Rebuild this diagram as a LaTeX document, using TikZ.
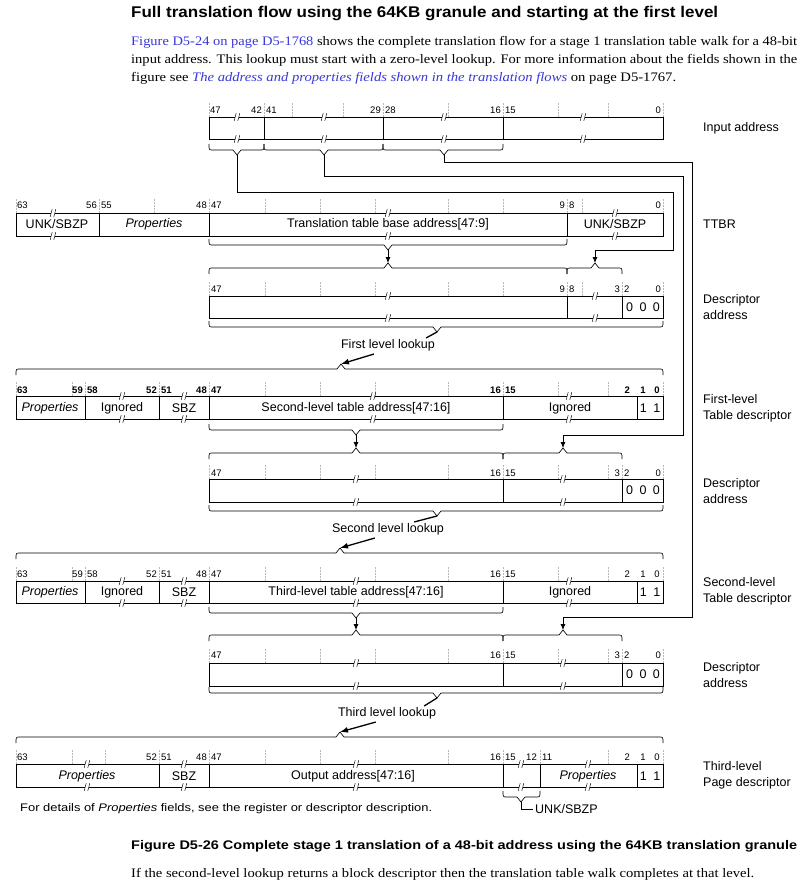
\documentclass[tikz,border=0pt]{standalone}
\usepackage{graphicx}
\usepackage{fontspec}
\setmainfont{Liberation Serif}
\newfontfamily\arial{Liberation Sans}
\usetikzlibrary{arrows.meta}
\definecolor{linkblue}{rgb}{0.22,0.22,0.85}
\newsavebox\fitbox
\newcommand\fitto[2]{\sbox\fitbox{#2}\pgfmathsetmacro\fitr{#1/\the\wd\fitbox}\scalebox{\fitr}[1]{\usebox\fitbox}}
\tikzset{
  boxline/.style={line width=1pt},
  tickline/.style={gray!55, line width=0.45pt, densely dotted},
  braceline/.style={line width=0.65pt},
  conn/.style={line width=0.75pt},
  arr/.style={conn,-{Latex[length=6pt,width=5pt]}},
  look/.style={line width=1.3pt},
  lookarr/.style={line width=1.3pt,-{Latex[length=8pt,width=6pt]}},
  field/.style={font=\arial\fontsize{12.5}{15}\selectfont, inner sep=0pt},
  bitlab/.style={font=\arial\fontsize{9.5}{11}\selectfont, inner sep=0pt},
  bitlabb/.style={font=\arial\bfseries\fontsize{9.5}{11}\selectfont, inner sep=0pt},
  side/.style={font=\arial\fontsize{12.5}{16}\selectfont, inner sep=0pt, anchor=west, align=left},
}
\newcommand\brk[2]{%
  \fill[white] (#1-2,#2-1) rectangle (#1+2,#2+1);
  \draw[line width=0.45pt] (#1-2.8,#2+3.8) .. controls (#1-0.4,#2+1.2) and (#1-3.2,#2-1.2) .. (#1-0.8,#2-3.8);
  \draw[line width=0.45pt] (#1+0.8,#2+3.8) .. controls (#1+3.2,#2+1.2) and (#1+0.4,#2-1.2) .. (#1+2.8,#2-3.8);}
\newcommand\bdn[5]{%
  \draw[braceline] (#1,#4-6) .. controls (#1,#4) .. (#1+4,#4) -- (#3-4,#4) -- (#3,#4+5) coordinate (#5) -- (#3+4,#4) -- (#2-4,#4) .. controls (#2,#4) .. (#2,#4-6);}
\newcommand\bup[5]{%
  \draw[braceline] (#1,#4+6) .. controls (#1,#4) .. (#1+4,#4) -- (#3-4,#4) -- (#3,#4-5) coordinate (#5) -- (#3+4,#4) -- (#2-4,#4) .. controls (#2,#4) .. (#2,#4+6);}
\begin{document}
\begin{tikzpicture}[x=1pt,y=-1pt]
\useasboundingbox[fill=white] (0,0) rectangle (806,891);

% ---------- heading and text ----------
\node[anchor=west,inner sep=0pt] (title) at (131,14) {\fitto{587}{\arial\bfseries\fontsize{15.5}{18}\selectfont Full translation flow using the 64KB granule and starting at the first level}};
\node[anchor=west,inner sep=0pt] (p1) at (131,42) {\fitto{666}{\fontsize{13}{15}\selectfont \textcolor{linkblue}{Figure D5-24 on page D5-1768} shows the complete translation flow for a stage 1 translation table walk for a 48-bit}};
\node[anchor=west,inner sep=0pt] (p2) at (131,60) {\fitto{666}{\fontsize{13}{15}\selectfont input address. This lookup must start with a zero-level lookup. For more information about the fields shown in the}};
\node[anchor=west,inner sep=0pt] (p3) at (131,78) {\fitto{545}{\fontsize{13}{15}\selectfont figure see \textcolor{linkblue}{\itshape The address and properties fields shown in the translation flows} on page D5-1767.}};

% ---------- Input address ----------
\foreach \x in {209,264,292,343,383,448,503,558,608,663} \draw[tickline] (\x,103)--(\x,117);
\draw[boxline] (209,117) rectangle (663,139);
\foreach \x in {264,383,503} \draw[boxline] (\x,117)--(\x,139);
\foreach \x/\t/\a [count=\i] in {210/47/west,262/42/east,266/41/west,381/29/east,385/28/west,501/16/east,505/15/west,661/0/east}
  \node[bitlab,anchor=\a] (ial\i) at (\x,110) {\t};
\foreach \x in {237,324,444,583} {\brk{\x}{117}\brk{\x}{139}}
\bdn{209}{264}{237}{150}{ia1}
\bdn{264}{383}{324}{150}{ia2}
\bdn{383}{503}{444}{150}{ia3}
\node[side] (sIA) at (703,128) {Input address};

% ---------- TTBR ----------
\foreach \x in {16,99,154,209,265,320,375,448,503,567,582,663} \draw[tickline] (\x,199)--(\x,213);
\draw[boxline] (16,213) rectangle (663,236);
\foreach \x in {99,209,567} \draw[boxline] (\x,213)--(\x,236);
\foreach \x/\t/\a [count=\i] in {17/63/west,97/56/east,101/55/west,207/48/east,211/47/west,565/9/east,569/8/west,661/0/east}
  \node[bitlab,anchor=\a] (ttl\i) at (\x,205) {\t};
\foreach \x in {53,388,615} {\brk{\x}{213}\brk{\x}{236}}
\node[field] (tt1) at (57,224) {UNK/SBZP};
\node[field] (tt2) at (154,224) {\itshape Properties};
\node[field] (tt3) at (388,224) {Translation table base address[47:9]};
\node[field] (tt4) at (615,224) {UNK/SBZP};
\bdn{209}{567}{388}{245}{tt}
\node[side] (sTT) at (703,224) {TTBR};

% ---------- Descriptor address 1 ----------
\bup{209}{567}{388}{268}{d1a}
\bup{567}{622}{595}{268}{d1b}
\foreach \x in {209,265,320,375,448,503,567,582,622,663} \draw[tickline] (\x,282)--(\x,296);
\draw[boxline] (209,296) rectangle (663,318);
\foreach \x in {567,622} \draw[boxline] (\x,296)--(\x,318);
\foreach \x/\t/\a [count=\i] in {211/47/west,565/9/east,569/8/west,620/3/east,624/2/west,661/0/east}
  \node[bitlab,anchor=\a] (d1l\i) at (\x,289) {\t};
\foreach \x in {388,595} {\brk{\x}{296}\brk{\x}{318}}
\node[field] (d1z) at (643,307) {0\hspace{6.5pt}0\hspace{6.5pt}0};
\bdn{209}{663}{437}{327}{d1lo}
\node[side] (sD1) at (703,307) {Descriptor\\address};

% First level lookup
\node[field] (lk1) at (388,345) {First level lookup};
\draw[look] (d1lo) -- ([xshift=-9pt,yshift=1pt]lk1.north east);
\bup{16}{663}{341}{369}{f1up}
\draw[lookarr] ([xshift=33pt,yshift=-3pt]lk1.south west) -- (f1up);

% ---------- First-level table descriptor ----------
\foreach \x in {16,72,85,159,209,265,320,375,448,503,558,608,663} \draw[tickline] (\x,382)--(\x,396);
\draw[boxline] (16,396) rectangle (663,419);
\foreach \x in {85,159,209,503,637} \draw[boxline] (\x,396)--(\x,419);
\foreach \x/\t/\a [count=\i] in {17/63/west,83/59/east,87/58/west,157/52/east,161/51/west,207/48/east,211/47/west,501/16/east,505/15/west,630/2/east,643/1/center,657/0/center}
  \node[bitlabb,anchor=\a] (f1l\i) at (\x,390) {\t};
\foreach \x in {122,184,373,569} {\brk{\x}{396}\brk{\x}{419}}
\node[field] (f1a) at (50,408) {\itshape Properties};
\node[field] (f1b) at (122,408) {Ignored};
\node[field] (f1c) at (184,408) {SBZ};
\node[field] (f1d) at (356,408) {Second-level table address[47:16]};
\node[field] (f1e) at (570,408) {Ignored};
\node[field] (f1f) at (650,408) {1\hspace{6.5pt}1};
\bdn{209}{503}{356}{430}{f1lo}
\node[side] (sF1) at (703,408) {First-level\\Table descriptor};

% ---------- Descriptor address 2 ----------
\bup{209}{503}{356}{453}{d2a}
\bup{503}{622}{563}{453}{d2b}
\foreach \x in {209,265,320,375,448,503,558,608,622,663} \draw[tickline] (\x,465)--(\x,479);
\draw[boxline] (209,479) rectangle (663,502);
\foreach \x in {503,622} \draw[boxline] (\x,479)--(\x,502);
\foreach \x/\t/\a [count=\i] in {211/47/west,501/16/east,505/15/west,620/3/east,624/2/west,661/0/east}
  \node[bitlab,anchor=\a] (d2l\i) at (\x,473) {\t};
\foreach \x in {356,563} {\brk{\x}{479}\brk{\x}{502}}
\node[field] (d2z) at (643,490) {0\hspace{6.5pt}0\hspace{6.5pt}0};
\bdn{209}{663}{437}{511}{d2lo}
\node[side] (sD2) at (703,491) {Descriptor\\address};

% Second level lookup
\node[field] (lk2) at (388,529) {Second level lookup};
\draw[look] (d2lo) -- ([xshift=-30pt,yshift=1pt]lk2.north east);
\bup{16}{663}{340}{553}{s1up}
\draw[lookarr] ([xshift=43pt,yshift=-3pt]lk2.south west) -- (s1up);

% ---------- Second-level table descriptor ----------
\foreach \x in {16,72,85,159,209,265,320,375,448,503,558,608,663} \draw[tickline] (\x,567)--(\x,581);
\draw[boxline] (16,581) rectangle (663,603);
\foreach \x in {85,159,209,503,637} \draw[boxline] (\x,581)--(\x,603);
\foreach \x/\t/\a [count=\i] in {17/63/west,83/59/east,87/58/west,157/52/east,161/51/west,207/48/east,211/47/west,501/16/east,505/15/west,630/2/east,643/1/center,657/0/center}
  \node[bitlab,anchor=\a] (s1l\i) at (\x,574) {\t};
\foreach \x in {122,184,356,569} {\brk{\x}{581}\brk{\x}{603}}
\node[field] (s1a) at (50,592) {\itshape Properties};
\node[field] (s1b) at (122,592) {Ignored};
\node[field] (s1c) at (184,592) {SBZ};
\node[field] (s1d) at (356,592) {Third-level table address[47:16]};
\node[field] (s1e) at (570,592) {Ignored};
\node[field] (s1f) at (650,592) {1\hspace{6.5pt}1};
\bdn{209}{503}{356}{613}{s1lo}
\node[side] (sS1) at (703,591) {Second-level\\Table descriptor};

% ---------- Descriptor address 3 ----------
\bup{209}{503}{356}{635}{d3a}
\bup{503}{622}{563}{635}{d3b}
\foreach \x in {209,265,320,375,448,503,558,608,622,663} \draw[tickline] (\x,649)--(\x,663);
\draw[boxline] (209,663) rectangle (663,686);
\foreach \x in {503,622} \draw[boxline] (\x,663)--(\x,686);
\foreach \x/\t/\a [count=\i] in {211/47/west,501/16/east,505/15/west,620/3/east,624/2/west,661/0/east}
  \node[bitlab,anchor=\a] (d3l\i) at (\x,655) {\t};
\foreach \x in {356,563} {\brk{\x}{663}\brk{\x}{686}}
\node[field] (d3z) at (643,674) {0\hspace{6.5pt}0\hspace{6.5pt}0};
\bdn{209}{663}{437}{693}{d3lo}
\node[side] (sD3) at (703,675) {Descriptor\\address};

% Third level lookup
\node[field] (lk3) at (387,713) {Third level lookup};
\draw[look] (d3lo) -- ([xshift=-12pt,yshift=1pt]lk3.north east);
\bup{16}{663}{340}{737}{t1up}
\draw[lookarr] ([xshift=38pt,yshift=-3pt]lk3.south west) -- (t1up);

% ---------- Third-level page descriptor ----------
\foreach \x in {16,72,105,159,209,265,320,375,448,503,540,608,663} \draw[tickline] (\x,750)--(\x,764);
\draw[boxline] (16,764) rectangle (663,787);
\foreach \x in {159,209,503,540,637} \draw[boxline] (\x,764)--(\x,787);
\foreach \x/\t/\a [count=\i] in {17/63/west,157/52/east,161/51/west,207/48/east,211/47/west,501/16/east,505/15/west,537/12/east,542/11/west,630/2/east,643/1/center,657/0/center}
  \node[bitlab,anchor=\a] (t1l\i) at (\x,757) {\t};
\foreach \x in {87,184,356,521,588} {\brk{\x}{764}\brk{\x}{787}}
\node[field] (t1a) at (87,776) {\itshape Properties};
\node[field] (t1c) at (184,776) {SBZ};
\node[field] (t1d) at (353,776) {Output address[47:16]};
\node[field] (t1e) at (588,776) {\itshape Properties};
\node[field] (t1f) at (650,776) {1\hspace{6.5pt}1};
\bdn{503}{540}{521}{797}{ub}
\node[field,anchor=west] (unk) at (535,809) {UNK/SBZP};
\draw[conn] (ub) |- ([xshift=-2pt]unk.west);
\node[side] (sT1) at (703,775) {Third-level\\Page descriptor};

\node[anchor=west,inner sep=0pt] (foot) at (20,809) {\fitto{412}{\arial\fontsize{11}{13}\selectfont For details of \textit{Properties} fields, see the register or descriptor description.}};

% ---------- connectors ----------
\coordinate (c1a) at (673,192);
\coordinate (c1b) at (673,250);
\coordinate (c2a) at (683,176);
\coordinate (c2b) at (683,435);
\coordinate (c3a) at (692,162);
\coordinate (c3b) at (692,617);
\draw[arr] (ia1) |- (c1a) -- (c1b) -| (d1b);
\draw[arr] (ia2) |- (c2a) -- (c2b) -| (d2b);
\draw[arr] (ia3) |- (c3a) -- (c3b) -| (d3b);
\draw[arr] (tt) -- (d1a);
\draw[arr] (f1lo) -- (d2a);
\draw[arr] (s1lo) -- (d3a);

% ---------- caption ----------
\node[anchor=west,inner sep=0pt] (cap) at (131,846) {\fitto{666}{\arial\bfseries\fontsize{12.5}{15}\selectfont Figure D5-26 Complete stage 1 translation of a 48-bit address using the 64KB translation granule}};
\node[anchor=west,inner sep=0pt] (last) at (131,874) {\fitto{623}{\fontsize{13}{15}\selectfont If the second-level lookup returns a block descriptor then the translation table walk completes at that level.}};
\end{tikzpicture}
\end{document}
